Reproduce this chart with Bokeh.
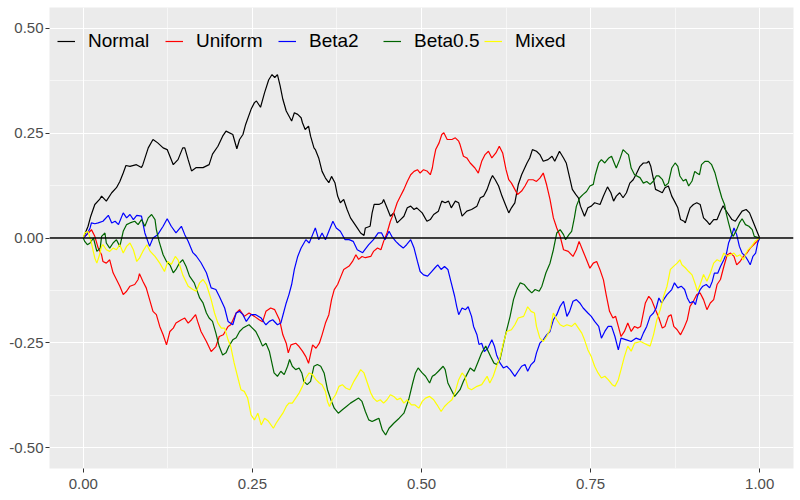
from bokeh.plotting import figure
from bokeh.models import (Legend, LegendItem, FixedTicker, NumeralTickFormatter,
                          Span, Range1d)
from bokeh.embed import file_html
from bokeh.resources import INLINE

# ---------------- data ----------------
series_names = ["Normal", "Uniform", "Beta2", "Beta0.5", "Mixed"]
series_colors = ["#000000", "#FF0000", "#0000FF", "#006400", "#FFFF00"]

normal_x = [0, 0.007, 0.011, 0.017, 0.024, 0.027, 0.034, 0.042, 0.049, 0.054, 0.059, 0.063, 0.069, 0.0785,
            0.086, 0.088, 0.096, 0.103, 0.11, 0.118, 0.124, 0.128, 0.133, 0.14, 0.147, 0.150, 0.155, 0.16,
            0.167, 0.177, 0.186, 0.191, 0.199, 0.206, 0.211, 0.221, 0.227, 0.231, 0.236, 0.24, 0.248, 0.253,
            0.256, 0.262, 0.268, 0.274, 0.279, 0.283, 0.287, 0.291, 0.295, 0.3, 0.304, 0.308, 0.312, 0.317,
            0.322, 0.324, 0.328, 0.333, 0.336, 0.341, 0.343, 0.348, 0.353, 0.358, 0.363, 0.367, 0.372, 0.376,
            0.38, 0.385, 0.39, 0.395, 0.4, 0.405, 0.41, 0.415, 0.417, 0.424, 0.427, 0.43, 0.437, 0.442, 0.444,
            0.449, 0.454, 0.459, 0.464, 0.469, 0.474, 0.479, 0.484, 0.489, 0.493, 0.501, 0.508, 0.513, 0.518,
            0.525, 0.53, 0.535, 0.540, 0.544, 0.55, 0.555, 0.56, 0.567, 0.574, 0.582, 0.587, 0.592, 0.597,
            0.602, 0.605, 0.609, 0.614, 0.619, 0.624, 0.629, 0.633, 0.638, 0.643, 0.648, 0.656, 0.66, 0.664,
            0.67, 0.675, 0.68, 0.687, 0.693, 0.697, 0.704, 0.71, 0.714, 0.718, 0.723, 0.728, 0.732, 0.735,
            0.741, 0.746, 0.751, 0.756, 0.764, 0.769, 0.775, 0.78, 0.784, 0.788, 0.793, 0.798, 0.803, 0.808,
            0.813, 0.817, 0.823, 0.828, 0.833, 0.836, 0.839, 0.843, 0.846, 0.851, 0.856, 0.86, 0.865, 0.87,
            0.874, 0.879, 0.883, 0.888, 0.89, 0.893, 0.897, 0.902, 0.907, 0.912, 0.917, 0.922, 0.926, 0.932,
            0.937, 0.942, 0.946, 0.949, 0.954, 0.959, 0.964, 0.969, 0.974, 0.98, 0.985, 0.99, 0.994, 0.997, 1.0]
normal_y = [0, 0.028, 0.052, 0.08, 0.092, 0.1, 0.088, 0.108, 0.12, 0.135, 0.155, 0.173, 0.171, 0.175,
            0.168, 0.175, 0.215, 0.235, 0.227, 0.215, 0.211, 0.195, 0.175, 0.187, 0.215, 0.215, 0.187, 0.16,
            0.168, 0.168, 0.175, 0.2, 0.219, 0.243, 0.255, 0.247, 0.213, 0.235, 0.247, 0.271, 0.307, 0.323,
            0.327, 0.312, 0.347, 0.377, 0.39, 0.383, 0.39, 0.363, 0.331, 0.303, 0.291, 0.279, 0.299, 0.295,
            0.287, 0.275, 0.259, 0.267, 0.243, 0.215, 0.211, 0.191, 0.159, 0.143, 0.132, 0.147, 0.132, 0.1,
            0.084, 0.092, 0.068, 0.048, 0.036, 0.024, 0.012, 0.006, 0.024, 0.028, 0.06, 0.08, 0.08, 0.084, 0.092,
            0.072, 0.052, 0.06, 0.036, 0.044, 0.052, 0.072, 0.076, 0.068, 0.072, 0.06, 0.04, 0.044, 0.056,
            0.064, 0.088, 0.084, 0.088, 0.072, 0.088, 0.084, 0.052, 0.064, 0.068, 0.076, 0.096, 0.1, 0.116,
            0.139, 0.149, 0.139, 0.124, 0.1, 0.08, 0.06, 0.072, 0.084, 0.127, 0.151, 0.179, 0.191, 0.211,
            0.207, 0.199, 0.183, 0.187, 0.195, 0.183, 0.207, 0.191, 0.179, 0.151, 0.116, 0.104, 0.096, 0.076,
            0.052, 0.072, 0.076, 0.084, 0.08, 0.1, 0.122, 0.108, 0.088, 0.1, 0.108, 0.096, 0.108, 0.131,
            0.139, 0.151, 0.171, 0.179, 0.179, 0.183, 0.171, 0.14, 0.116, 0.112, 0.108, 0.12, 0.124, 0.1,
            0.088, 0.072, 0.044, 0.04, 0.036, 0.052, 0.072, 0.08, 0.084, 0.08, 0.048, 0.04, 0.032, 0.044,
            0.044, 0.064, 0.077, 0.068, 0.056, 0.044, 0.04, 0.052, 0.064, 0.068, 0.06, 0.04, 0.024, 0.012, 0]

uniform_x = [0, 0.005, 0.01, 0.012, 0.017, 0.022, 0.027, 0.029, 0.034, 0.039, 0.044, 0.049, 0.054, 0.059,
             0.064, 0.069, 0.076, 0.081, 0.083, 0.088, 0.093, 0.098, 0.103, 0.108, 0.113, 0.118, 0.123, 0.128,
             0.133, 0.137, 0.145, 0.150, 0.155, 0.160, 0.166, 0.169, 0.174, 0.182, 0.189, 0.196, 0.201, 0.207,
             0.214, 0.218, 0.226, 0.231, 0.238, 0.245, 0.253, 0.26, 0.265, 0.27, 0.277, 0.283, 0.29, 0.295,
             0.3, 0.303, 0.307, 0.314, 0.319, 0.324, 0.329, 0.333, 0.339, 0.344, 0.349, 0.353, 0.358, 0.363,
             0.367, 0.371, 0.376, 0.381, 0.385, 0.393, 0.398, 0.403, 0.407, 0.412, 0.417, 0.425, 0.429, 0.435,
             0.44, 0.444, 0.449, 0.454, 0.459, 0.464, 0.469, 0.474, 0.479, 0.484, 0.489, 0.494, 0.498, 0.503,
             0.508, 0.513, 0.516, 0.518, 0.521, 0.526, 0.53, 0.533, 0.538, 0.545, 0.55, 0.555, 0.557, 0.562,
             0.567, 0.572, 0.579, 0.584, 0.589, 0.594, 0.599, 0.604, 0.61, 0.615, 0.62, 0.625, 0.629, 0.633,
             0.638, 0.642, 0.648, 0.653, 0.658, 0.665, 0.67, 0.675, 0.68, 0.685, 0.69, 0.695, 0.7, 0.705, 0.71,
             0.717, 0.724, 0.729, 0.733, 0.739, 0.744, 0.749, 0.754, 0.759, 0.764, 0.769, 0.773, 0.778, 0.783,
             0.787, 0.791, 0.795, 0.8, 0.805, 0.81, 0.815, 0.82, 0.824, 0.827, 0.831, 0.836, 0.84, 0.846, 0.851,
             0.856, 0.86, 0.865, 0.869, 0.873, 0.878, 0.883, 0.888, 0.893, 0.897, 0.902, 0.907, 0.912, 0.917,
             0.922, 0.927, 0.932, 0.937, 0.942, 0.947, 0.952, 0.957, 0.962, 0.966, 0.971, 0.976, 0.981, 0.986,
             0.991, 0.996, 1.0]
uniform_y = [0, 0.008, 0.016, 0.02, 0.004, -0.024, -0.04, -0.056, -0.06, -0.052, -0.083, -0.099, -0.115,
             -0.135, -0.127, -0.115, -0.111, -0.099, -0.085, -0.103, -0.119, -0.147, -0.175, -0.183, -0.211,
             -0.231, -0.255, -0.223, -0.215, -0.203, -0.195, -0.191, -0.203, -0.195, -0.183, -0.199, -0.223,
             -0.247, -0.271, -0.259, -0.235, -0.231, -0.211, -0.207, -0.179, -0.171, -0.187, -0.179, -0.187,
             -0.195, -0.2, -0.175, -0.167, -0.171, -0.195, -0.231, -0.251, -0.274, -0.255, -0.251, -0.259,
             -0.27, -0.283, -0.299, -0.255, -0.263, -0.251, -0.231, -0.203, -0.183, -0.147, -0.123, -0.111,
             -0.091, -0.075, -0.067, -0.056, -0.04, -0.051, -0.044, -0.047, -0.044, -0.032, -0.024, -0.028,
             -0.008, 0.012, 0.04, 0.06, 0.084, 0.1, 0.116, 0.135, 0.151, 0.159, 0.163, 0.155, 0.163, 0.16,
             0.151, 0.167, 0.187, 0.211, 0.227, 0.247, 0.251, 0.235, 0.235, 0.239, 0.231, 0.223, 0.195, 0.191,
             0.179, 0.167, 0.155, 0.183, 0.199, 0.207, 0.191, 0.203, 0.219, 0.203, 0.163, 0.139, 0.131, 0.116,
             0.104, 0.112, 0.124, 0.139, 0.139, 0.135, 0.143, 0.155, 0.127, 0.092, 0.048, 0.024, 0.004, -0.028,
             -0.032, -0.044, -0.028, -0.008, -0.032, -0.052, -0.072, -0.06, -0.056, -0.076, -0.1, -0.135,
             -0.175, -0.191, -0.187, -0.211, -0.235, -0.223, -0.203, -0.223, -0.211, -0.215, -0.211, -0.187,
             -0.155, -0.139, -0.147, -0.171, -0.191, -0.215, -0.211, -0.187, -0.183, -0.211, -0.219, -0.231,
             -0.215, -0.195, -0.163, -0.151, -0.135, -0.131, -0.147, -0.171, -0.155, -0.147, -0.111, -0.099,
             -0.068, -0.04, -0.036, -0.044, -0.064, -0.056, -0.044, -0.036, -0.024, -0.016, -0.008, 0]

beta2_x = [0, 0.005, 0.01, 0.012, 0.017, 0.022, 0.029, 0.037, 0.042, 0.047, 0.052, 0.059, 0.064, 0.069,
           0.074, 0.079, 0.086, 0.091, 0.098, 0.103, 0.11, 0.118, 0.124, 0.13, 0.137, 0.145, 0.15, 0.155,
           0.162, 0.167, 0.174, 0.182, 0.189, 0.196, 0.201, 0.209, 0.214, 0.221, 0.226, 0.231, 0.236, 0.241,
           0.248, 0.255, 0.263, 0.268, 0.27, 0.275, 0.28, 0.287, 0.292, 0.296, 0.3, 0.304, 0.308, 0.312,
           0.317, 0.322, 0.329, 0.334, 0.339, 0.343, 0.348, 0.353, 0.358, 0.363, 0.369, 0.374, 0.38, 0.387,
           0.393, 0.399, 0.405, 0.413, 0.418, 0.422, 0.429, 0.436, 0.441, 0.446, 0.452, 0.456, 0.462, 0.467,
           0.473, 0.478, 0.484, 0.489, 0.494, 0.498, 0.503, 0.509, 0.515, 0.52, 0.524, 0.529, 0.534, 0.539,
           0.544, 0.549, 0.552, 0.555, 0.56, 0.565, 0.569, 0.574, 0.577, 0.582, 0.585, 0.589, 0.593, 0.598,
           0.604, 0.608, 0.611, 0.616, 0.621, 0.626, 0.631, 0.638, 0.643, 0.648, 0.653, 0.657, 0.662, 0.667,
           0.67, 0.675, 0.68, 0.685, 0.69, 0.695, 0.7, 0.705, 0.71, 0.715, 0.719, 0.724, 0.729, 0.734, 0.739,
           0.746, 0.751, 0.756, 0.762, 0.766, 0.771, 0.776, 0.781, 0.786, 0.791, 0.795, 0.803, 0.81, 0.817,
           0.824, 0.828, 0.833, 0.838, 0.843, 0.847, 0.851, 0.855, 0.858, 0.863, 0.87, 0.874, 0.879, 0.884,
           0.889, 0.893, 0.897, 0.902, 0.905, 0.908, 0.912, 0.916, 0.921, 0.926, 0.93, 0.933, 0.938, 0.942,
           0.947, 0.951, 0.954, 0.958, 0.962, 0.966, 0.97, 0.974, 0.979, 0.982, 0.986, 0.99, 0.994, 0.997, 1.0]
beta2_y = [0, 0.008, 0.024, 0.036, 0.034, 0.036, 0.04, 0.054, 0.036, 0.04, 0.032, 0.06, 0.048, 0.056, 0.044,
           0.054, 0.052, 0.012, -0.02, 0, 0.008, 0.028, 0.046, 0.028, 0.012, 0.028, 0.008, -0.008, -0.035,
           -0.043, -0.059, -0.083, -0.119, -0.123, -0.139, -0.167, -0.199, -0.207, -0.179, -0.175, -0.183,
           -0.199, -0.183, -0.183, -0.191, -0.203, -0.207, -0.199, -0.195, -0.207, -0.203, -0.179, -0.155,
           -0.135, -0.111, -0.075, -0.044, -0.024, -0.004, -0.012, 0.008, 0.024, -0.004, 0.012, -0.004, 0.016,
           0.04, 0.024, 0.016, -0.004, -0.004, -0.008, -0.028, -0.035, -0.024, -0.016, -0.004, 0.012, 0.012,
           -0.004, 0.016, 0.004, -0.008, -0.016, -0.024, -0.016, -0.004, -0.024, -0.056, -0.08, -0.088,
           -0.091, -0.08, -0.071, -0.064, -0.075, -0.068, -0.075, -0.107, -0.139, -0.163, -0.183, -0.167,
           -0.171, -0.164, -0.187, -0.211, -0.231, -0.254, -0.251, -0.271, -0.263, -0.243, -0.259, -0.279,
           -0.298, -0.31, -0.306, -0.314, -0.33, -0.318, -0.306, -0.302, -0.318, -0.302, -0.294, -0.274,
           -0.251, -0.243, -0.231, -0.223, -0.195, -0.183, -0.163, -0.151, -0.187, -0.175, -0.151, -0.147,
           -0.155, -0.167, -0.179, -0.187, -0.199, -0.211, -0.239, -0.223, -0.211, -0.211, -0.235, -0.267,
           -0.239, -0.243, -0.247, -0.239, -0.243, -0.227, -0.211, -0.187, -0.179, -0.167, -0.143, -0.155,
           -0.147, -0.135, -0.123, -0.107, -0.119, -0.115, -0.123, -0.143, -0.155, -0.151, -0.159, -0.139,
           -0.123, -0.115, -0.111, -0.119, -0.103, -0.084, -0.084, -0.068, -0.052, -0.036, -0.012, 0.004,
           0.024, 0.008, -0.02, -0.036, -0.044, -0.052, -0.064, -0.044, -0.036, -0.012, 0]

beta05_x = [0, 0.002, 0.006, 0.01, 0.015, 0.02, 0.025, 0.027, 0.032, 0.034, 0.039, 0.044, 0.049, 0.054,
            0.059, 0.064, 0.069, 0.076, 0.081, 0.086, 0.091, 0.096, 0.101, 0.106, 0.108, 0.112, 0.118, 0.123,
            0.128, 0.133, 0.137, 0.142, 0.147, 0.152, 0.157, 0.164, 0.172, 0.177, 0.182, 0.186, 0.191, 0.196,
            0.201, 0.206, 0.211, 0.215, 0.221, 0.226, 0.231, 0.236, 0.24, 0.245, 0.25, 0.255, 0.26, 0.265,
            0.27, 0.275, 0.282, 0.287, 0.292, 0.297, 0.302, 0.305, 0.309, 0.314, 0.319, 0.323, 0.326, 0.331,
            0.336, 0.341, 0.346, 0.351, 0.356, 0.361, 0.366, 0.371, 0.377, 0.383, 0.389, 0.395, 0.403, 0.407,
            0.412, 0.417, 0.422, 0.427, 0.432, 0.437, 0.442, 0.447, 0.452, 0.459, 0.467, 0.474, 0.481, 0.487,
            0.491, 0.495, 0.501, 0.506, 0.512, 0.516, 0.52, 0.525, 0.532, 0.535, 0.539, 0.544, 0.549, 0.557,
            0.562, 0.567, 0.572, 0.578, 0.584, 0.589, 0.595, 0.602, 0.607, 0.611, 0.616, 0.621, 0.626, 0.631,
            0.636, 0.641, 0.646, 0.652, 0.658, 0.663, 0.668, 0.674, 0.678, 0.684, 0.69, 0.695, 0.7, 0.705,
            0.71, 0.713, 0.718, 0.722, 0.726, 0.729, 0.734, 0.739, 0.744, 0.749, 0.754, 0.757, 0.762, 0.766,
            0.771, 0.777, 0.781, 0.786, 0.788, 0.793, 0.798, 0.803, 0.806, 0.81, 0.815, 0.823, 0.828, 0.833,
            0.838, 0.843, 0.847, 0.851, 0.856, 0.86, 0.865, 0.87, 0.875, 0.879, 0.882, 0.887, 0.891, 0.895,
            0.9, 0.904, 0.907, 0.911, 0.914, 0.919, 0.924, 0.929, 0.934, 0.939, 0.944, 0.948, 0.951, 0.954,
            0.958, 0.961, 0.966, 0.97, 0.974, 0.979, 0.984, 0.989, 0.992, 1.0]
beta05_y = [0, -0.008, -0.016, -0.012, 0, -0.032, -0.024, 0.004, 0.012, -0.012, -0.024, -0.012, -0.004,
            -0.02, 0.016, 0.032, 0.036, 0.04, 0.032, 0.044, 0.028, 0.048, 0.056, 0.044, 0.02, -0.008, -0.04,
            -0.056, -0.064, -0.083, -0.075, -0.06, -0.052, -0.068, -0.091, -0.107, -0.143, -0.155, -0.179,
            -0.191, -0.199, -0.227, -0.259, -0.279, -0.274, -0.259, -0.243, -0.238, -0.223, -0.215, -0.211,
            -0.207, -0.215, -0.223, -0.239, -0.258, -0.251, -0.27, -0.322, -0.33, -0.318, -0.326, -0.306,
            -0.29, -0.306, -0.314, -0.31, -0.322, -0.342, -0.35, -0.342, -0.306, -0.302, -0.306, -0.322,
            -0.362, -0.386, -0.406, -0.418, -0.41, -0.402, -0.394, -0.386, -0.382, -0.39, -0.414, -0.434,
            -0.438, -0.434, -0.43, -0.458, -0.47, -0.454, -0.442, -0.43, -0.418, -0.386, -0.346, -0.322, -0.31,
            -0.322, -0.33, -0.346, -0.33, -0.326, -0.318, -0.306, -0.314, -0.346, -0.362, -0.378, -0.362,
            -0.342, -0.326, -0.31, -0.318, -0.294, -0.274, -0.258, -0.282, -0.298, -0.302, -0.29, -0.254,
            -0.219, -0.187, -0.147, -0.123, -0.107, -0.111, -0.123, -0.131, -0.123, -0.127, -0.115, -0.083,
            -0.06, -0.028, 0.012, 0.02, 0.008, -0.004, 0.008, 0.016, 0.048, 0.076, 0.096, 0.104, 0.111, 0.124,
            0.128, 0.151, 0.179, 0.187, 0.179, 0.191, 0.195, 0.175, 0.167, 0.187, 0.211, 0.203, 0.199, 0.167,
            0.151, 0.144, 0.131, 0.135, 0.128, 0.136, 0.148, 0.148, 0.14, 0.124, 0.131, 0.167, 0.179, 0.171,
            0.148, 0.136, 0.14, 0.124, 0.136, 0.159, 0.155, 0.151, 0.175, 0.183, 0.183, 0.175, 0.155, 0.124,
            0.096, 0.08, 0.056, 0.036, 0.012, 0.004, 0.02, 0.036, 0.046, 0.032, 0.028, 0.02, 0.004, 0]

mixed_x = [0, 0.002, 0.007, 0.012, 0.017, 0.02, 0.024, 0.027, 0.029, 0.034, 0.039, 0.044, 0.049, 0.054,
           0.059, 0.064, 0.069, 0.074, 0.079, 0.083, 0.088, 0.094, 0.099, 0.106, 0.113, 0.12, 0.125, 0.13,
           0.136, 0.14, 0.147, 0.155, 0.162, 0.167, 0.172, 0.177, 0.182, 0.189, 0.194, 0.199, 0.204, 0.209,
           0.214, 0.218, 0.223, 0.228, 0.233, 0.238, 0.243, 0.248, 0.253, 0.258, 0.263, 0.268, 0.273, 0.281,
           0.285, 0.29, 0.295, 0.3, 0.304, 0.309, 0.314, 0.319, 0.324, 0.329, 0.334, 0.339, 0.344, 0.349,
           0.353, 0.358, 0.361, 0.364, 0.368, 0.373, 0.378, 0.383, 0.388, 0.394, 0.4, 0.406, 0.41, 0.415,
           0.42, 0.425, 0.429, 0.434, 0.439, 0.444, 0.449, 0.454, 0.459, 0.464, 0.469, 0.474, 0.479, 0.485,
           0.49, 0.496, 0.501, 0.506, 0.512, 0.518, 0.523, 0.529, 0.534, 0.539, 0.545, 0.55, 0.555, 0.56,
           0.564, 0.569, 0.574, 0.582, 0.589, 0.597, 0.601, 0.606, 0.611, 0.616, 0.621, 0.626, 0.633, 0.638,
           0.643, 0.651, 0.657, 0.662, 0.667, 0.67, 0.675, 0.68, 0.685, 0.69, 0.695, 0.7, 0.705, 0.71, 0.715,
           0.722, 0.727, 0.732, 0.737, 0.741, 0.746, 0.751, 0.756, 0.761, 0.766, 0.771, 0.776, 0.782, 0.786,
           0.791, 0.795, 0.8, 0.805, 0.81, 0.815, 0.824, 0.829, 0.834, 0.838, 0.843, 0.848, 0.853, 0.858,
           0.863, 0.868, 0.873, 0.878, 0.882, 0.885, 0.89, 0.895, 0.9, 0.905, 0.908, 0.912, 0.917, 0.922,
           0.927, 0.932, 0.937, 0.942, 0.947, 0.952, 0.957, 0.962, 0.966, 0.971, 0.976, 0.98, 0.983, 0.988,
           0.993, 1.0]
mixed_y = [0, 0.012, 0.016, -0.012, -0.048, -0.06, -0.04, -0.02, -0.016, -0.028, -0.032, -0.024, -0.028,
           -0.016, -0.036, -0.02, -0.012, -0.028, -0.056, -0.048, -0.032, -0.016, -0.032, -0.044, -0.06, -0.08,
           -0.056, -0.063, -0.044, -0.052, -0.088, -0.115, -0.123, -0.127, -0.107, -0.099, -0.111, -0.147,
           -0.179, -0.203, -0.215, -0.215, -0.243, -0.259, -0.298, -0.33, -0.362, -0.366, -0.382, -0.422,
           -0.434, -0.418, -0.446, -0.43, -0.436, -0.454, -0.442, -0.43, -0.418, -0.402, -0.394, -0.394,
           -0.382, -0.37, -0.354, -0.334, -0.322, -0.326, -0.338, -0.346, -0.35, -0.366, -0.39, -0.402,
           -0.386, -0.374, -0.354, -0.35, -0.358, -0.362, -0.342, -0.326, -0.314, -0.322, -0.346, -0.37,
           -0.382, -0.39, -0.386, -0.394, -0.386, -0.374, -0.378, -0.386, -0.382, -0.394, -0.386, -0.398,
           -0.398, -0.406, -0.39, -0.382, -0.378, -0.386, -0.398, -0.414, -0.402, -0.394, -0.386, -0.366,
           -0.338, -0.322, -0.33, -0.358, -0.362, -0.354, -0.35, -0.33, -0.346, -0.33, -0.306, -0.286,
           -0.251, -0.223, -0.219, -0.207, -0.191, -0.187, -0.164, -0.175, -0.179, -0.211, -0.239, -0.247,
           -0.235, -0.219, -0.179, -0.195, -0.207, -0.211, -0.207, -0.211, -0.203, -0.215, -0.227, -0.243,
           -0.267, -0.283, -0.306, -0.322, -0.334, -0.33, -0.338, -0.35, -0.354, -0.338, -0.314, -0.283,
           -0.258, -0.27, -0.251, -0.247, -0.251, -0.255, -0.258, -0.231, -0.195, -0.171, -0.139, -0.115,
           -0.075, -0.067, -0.06, -0.052, -0.064, -0.071, -0.08, -0.088, -0.111, -0.127, -0.111, -0.087,
           -0.103, -0.084, -0.06, -0.052, -0.056, -0.036, -0.044, -0.04, -0.036, -0.044, -0.04, -0.052,
           -0.036, -0.028, -0.02, -0.008, 0]

x_ticks = [0.0, 0.25, 0.5, 0.75, 1.0]
x_minor = [0.125, 0.375, 0.625, 0.875]
y_ticks = [-0.5, -0.25, 0.0, 0.25, 0.5]
y_minor = [-0.375, -0.125, 0.125, 0.375]

# ---------------- figure ----------------
FONT = "Liberation Sans"
p = figure(width=800, height=500, output_backend="svg", toolbar_location=None,
           x_range=Range1d(-0.05, 1.05), y_range=Range1d(-0.55, 0.55),
           min_border_left=49, min_border_right=7, min_border_top=7, min_border_bottom=32)
p.background_fill_color = "#EBEBEB"
p.border_fill_color = "white"
p.outline_line_color = None

for ax, ticks, minor in ((p.xaxis, x_ticks, x_minor), (p.yaxis, y_ticks, y_minor)):
    ax.ticker = FixedTicker(ticks=ticks, minor_ticks=minor)
    ax.formatter = NumeralTickFormatter(format="0.00")
    ax.axis_line_color = None
    ax.major_tick_line_color = "#333333"
    ax.major_tick_line_width = 1
    ax.major_tick_out = 4
    ax.major_tick_in = 0
    ax.minor_tick_line_color = None
    ax.major_label_text_color = "#4D4D4D"
    ax.major_label_text_font = FONT
    ax.major_label_text_font_size = "15px"
p.xaxis.major_label_standoff = 6
p.yaxis.major_label_standoff = 2

for g in (p.xgrid, p.ygrid):
    g.grid_line_color = "white"
    g.grid_line_width = 1.1
    g.minor_grid_line_color = "white"
    g.minor_grid_line_width = 0.55
p.xgrid.ticker = FixedTicker(ticks=x_ticks, minor_ticks=x_minor)
p.ygrid.ticker = FixedTicker(ticks=y_ticks, minor_ticks=y_minor)

all_x = [normal_x, uniform_x, beta2_x, beta05_x, mixed_x]
all_y = [normal_y, uniform_y, beta2_y, beta05_y, mixed_y]
renderers = []
for name, color, xs, ys in zip(series_names, series_colors, all_x, all_y):
    renderers.append(p.line(xs, ys, line_color=color, line_width=1.2))

p.add_layout(Span(location=0, dimension="width", line_color="black", line_width=1.4))

# one legend entry per key so each sits where the reference puts it
legend_offsets = [8, 116, 229, 334, 435]
for name, r, off in zip(series_names, renderers, legend_offsets):
    lg = Legend(items=[LegendItem(label=name, renderers=[r])], orientation="horizontal",
                location=(off, 416), background_fill_alpha=0, border_line_color=None,
                label_text_font=FONT, label_text_font_size="19px", label_text_color="black",
                glyph_width=18, glyph_height=20, label_standoff=13, spacing=0,
                padding=0, margin=0, label_height=20)
    p.add_layout(lg, "center")

open("out.html", "w").write(file_html(p, INLINE))
